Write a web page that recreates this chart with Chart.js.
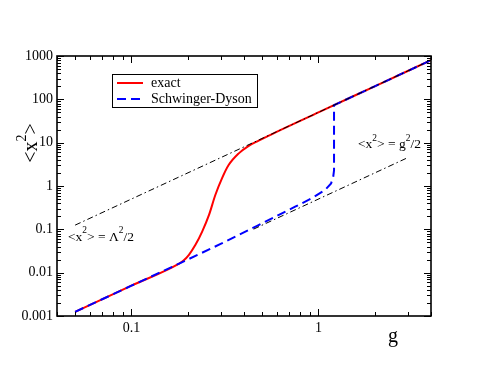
<!DOCTYPE html>
<html>
<head>
<meta charset="utf-8">
<script src="https://cdn.jsdelivr.net/npm/chart.js@4"></script>
<style>
  body { margin: 0; background: #fff; }
</style>
</head>
<body>
<canvas id="chart" width="485" height="374"></canvas>
<script>
// values (g, <x^2>)
const exactG  = [0.05, 0.1, 0.179, 0.19, 0.203, 0.22, 0.239, 0.26, 0.281, 0.305, 0.331, 0.375, 0.424, 0.479, 0.53, 0.59, 1, 2, 4];
const exactX2 = [0.00125, 0.005, 0.016, 0.019, 0.0258, 0.0438, 0.0885, 0.215, 0.62, 1.5, 3.04, 5.66, 8.47, 11.1, 13.8, 17.3, 50, 200, 800];
const sdG  = [0.05, 0.1, 0.18, 0.3, 0.47, 0.588, 0.751, 0.922, 1.086, 1.169, 1.2, 1.212, 1.212, 2, 4];
const sdX2 = [0.00125, 0.005, 0.0162, 0.046, 0.12, 0.196, 0.333, 0.521, 0.81, 1.15, 1.64, 2.3, 73.4, 200, 800];
const lambdaG  = [0.05, 4];
const lambdaX2 = [0.125, 800];
const weakG  = [0.45, 3];
const weakX2 = [0.101, 4.5];

const xTickLabels = [0.1, 1];
const yTickLabels = [0.001, 0.01, 0.1, 1, 10, 100, 1000];
const legendLabels = ["exact", "Schwinger-Dyson"];

const serif = "'Liberation Serif', 'DejaVu Serif', serif";
const pts = (xs, ys) => xs.map((x, i) => ({x: x, y: ys[i]}));

function logTicks(min, max) {
  const out = [];
  for (let e = Math.floor(Math.log10(min)); e <= Math.ceil(Math.log10(max)); e++) {
    for (let k = 1; k < 10; k++) {
      const v = Number((k * Math.pow(10, e)).toPrecision(3));
      if (v >= min && v <= max) out.push({value: v});
    }
  }
  return out;
}

// text with superscripts: parts = [[text, isSup], ...]
function richWidth(ctx, parts, size) {
  let w = 0;
  parts.forEach(p => {
    ctx.font = (p[1] ? size * 0.7 : size) + "px " + serif;
    w += ctx.measureText(p[0]).width;
  });
  return w;
}
function drawRich(ctx, parts, x, y, size, rise) {
  parts.forEach(p => {
    ctx.font = (p[1] ? size * 0.7 : size) + "px " + serif;
    ctx.fillText(p[0], x, p[1] ? y - rise : y);
    x += ctx.measureText(p[0]).width;
  });
}

const framePlugin = {
  id: "frame",
  afterDraw(chart) {
    const ctx = chart.ctx;
    const a = chart.chartArea;
    const xs = chart.scales.x, ys = chart.scales.y;
    ctx.save();
    ctx.strokeStyle = "#000";
    ctx.lineWidth = 1;
    ctx.beginPath();
    xs.ticks.forEach(t => {
      const px = Math.round(xs.getPixelForValue(t.value)) + 0.5;
      const len = xTickLabels.includes(t.value) ? 7 : 4;
      ctx.moveTo(px, a.bottom); ctx.lineTo(px, a.bottom - len);
      ctx.moveTo(px, a.top); ctx.lineTo(px, a.top + len);
    });
    ys.ticks.forEach(t => {
      const py = Math.round(ys.getPixelForValue(t.value)) + 0.5;
      const len = yTickLabels.includes(t.value) ? 7 : 4;
      ctx.moveTo(a.left, py); ctx.lineTo(a.left + len, py);
      ctx.moveTo(a.right, py); ctx.lineTo(a.right - len, py);
    });
    ctx.stroke();
    ctx.lineWidth = 1.6;
    ctx.strokeRect(a.left, a.top, a.right - a.left, a.bottom - a.top);

    // legend
    const lx = 112, ly = 74;
    ctx.fillStyle = "#fff";
    ctx.fillRect(lx, ly, 145, 33);
    ctx.lineWidth = 1;
    ctx.strokeStyle = "#000";
    ctx.strokeRect(lx + 0.5, ly + 0.5, 145, 33);
    legendLabels.forEach((lab, i) => {
      const ds = chart.data.datasets[i];
      const y = ly + 9 + i * 16;
      ctx.strokeStyle = ds.borderColor;
      ctx.lineWidth = ds.borderWidth;
      ctx.setLineDash(ds.borderDash || []);
      ctx.beginPath();
      ctx.moveTo(lx + 5, y); ctx.lineTo(lx + 31, y);
      ctx.stroke();
      ctx.setLineDash([]);
      ctx.fillStyle = "#000";
      ctx.font = "14px " + serif;
      ctx.textBaseline = "alphabetic";
      ctx.fillText(lab, lx + 39, y + 4);
    });

    // annotations
    ctx.fillStyle = "#000";
    ctx.textBaseline = "alphabetic";
    drawRich(ctx, [["<x", false], ["2", true], ["> = \u039B", false], ["2", true], ["/2", false]], 68, 241, 13.5, 8);
    drawRich(ctx, [["<x", false], ["2", true], ["> = g", false], ["2", true], ["/2", false]], 358, 148, 13.5, 7);

    // axis titles
    ctx.font = "20px " + serif;
    ctx.textAlign = "center";
    ctx.fillText("g", 393, 342);
    ctx.textAlign = "left";
    ctx.save();
    ctx.translate(37, 143);
    ctx.rotate(-Math.PI / 2);
    const parts = [["<x", false], ["2", true], [">", false]];
    drawRich(ctx, parts, -richWidth(ctx, parts, 20) / 2, 0, 20, 11);
    ctx.restore();
    ctx.restore();
  }
};

new Chart("chart", {
  type: "scatter",
  data: {
    datasets: [
      {label: legendLabels[0], data: pts(exactG, exactX2), showLine: true, pointRadius: 0,
       borderColor: "rgb(255,0,0)", borderWidth: 2, cubicInterpolationMode: "monotone", order: 2},
      {label: legendLabels[1], data: pts(sdG, sdX2), showLine: true, pointRadius: 0,
       borderColor: "rgb(0,0,255)", borderWidth: 2, borderDash: [9, 5], order: 1},
      {label: "lambda", data: pts(lambdaG, lambdaX2), showLine: true, pointRadius: 0,
       borderColor: "#000", borderWidth: 1, borderDash: [6, 3, 1.5, 3], order: 0},
      {label: "weak", data: pts(weakG, weakX2), showLine: true, pointRadius: 0,
       borderColor: "#000", borderWidth: 1, borderDash: [6, 3, 1.5, 3], order: 0}
    ]
  },
  options: {
    responsive: false,
    animation: false,
    layout: {padding: {left: 0, top: 56, right: 54, bottom: 0}},
    plugins: {legend: {display: false}, tooltip: {enabled: false}},
    scales: {
      x: {
        type: "logarithmic", min: 0.04, max: 4,
        afterBuildTicks: s => { s.ticks = logTicks(0.04, 4); },
        afterFit: s => { s.height = 58; },
        grid: {display: false, drawTicks: false},
        border: {display: false},
        ticks: {autoSkip: false, maxRotation: 0, padding: 4, color: "#000",
                font: {family: serif, size: 14},
                callback: v => xTickLabels.includes(v) ? String(v) : ""}
      },
      y: {
        type: "logarithmic", min: 0.001, max: 1000,
        afterBuildTicks: s => { s.ticks = logTicks(0.001, 1000); },
        afterFit: s => { s.width = 57; },
        grid: {display: false, drawTicks: false},
        border: {display: false},
        ticks: {autoSkip: false, padding: 4, color: "#000",
                font: {family: serif, size: 14},
                callback: v => yTickLabels.includes(v) ? String(v) : ""}
      }
    }
  },
  plugins: [framePlugin]
});
</script>
</body>
</html>
